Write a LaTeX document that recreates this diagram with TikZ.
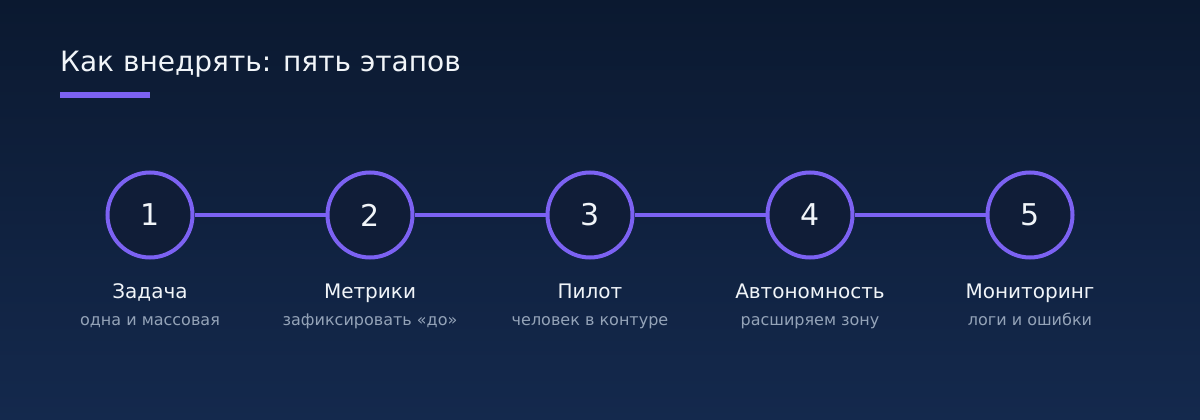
\documentclass[tikz,border=0pt]{standalone}
\usepackage{fontspec}
\setmainfont{DejaVu Sans}
\usetikzlibrary{positioning}
\definecolor{bgtop}{HTML}{0B1930}
\definecolor{bgbot}{HTML}{14294D}
\definecolor{violet}{HTML}{7C62F2}
\definecolor{disc}{HTML}{101D37}
\definecolor{ink}{HTML}{F1F5F9}
\definecolor{muted}{HTML}{94A3B8}
\tikzset{
  stepdot/.style={circle,draw=violet,fill=disc,line width=4pt,minimum size=85pt,inner sep=0pt,
    text=ink,font=\fontsize{30}{36}\selectfont},
  stepname/.style={anchor=base,text=ink,font=\fontsize{20}{24}\selectfont,inner sep=0pt},
  stepnote/.style={anchor=base,text=muted,font=\fontsize{16}{19}\selectfont,inner sep=0pt},
  link/.style={line width=3.5pt,color=violet}
}
\begin{document}
\begin{tikzpicture}[x=1pt,y=-1pt]
\shade[top color=bgtop,bottom color=bgbot] (0,0) rectangle (1200,420);
\useasboundingbox (0,0) rectangle (1200,420);
% title
\node[anchor=base west,inner sep=0pt,text=ink,font=\fontsize{28}{34}\selectfont] (title) at (60,71) {Как внедрять: пять этапов};
\fill[violet] (60,92) rectangle (150,98);
% steps
\foreach \i/\x/\name/\note in {1/150/Задача/одна и массовая,
                               2/370/Метрики/зафиксировать «до»,
                               3/590/Пилот/человек в контуре,
                               4/810/Автономность/расширяем зону,
                               5/1030/Мониторинг/логи и ошибки}{
  \node[stepdot] (s\i) at (\x,215) {\i};
  \node[stepname] (n\i) at (\x,298) {\name};
  \node[stepnote] (d\i) at (\x,325) {\note};
}
\draw[link] (s1) -- (s2);
\draw[link] (s2) -- (s3);
\draw[link] (s3) -- (s4);
\draw[link] (s4) -- (s5);
\end{tikzpicture}
\end{document}
